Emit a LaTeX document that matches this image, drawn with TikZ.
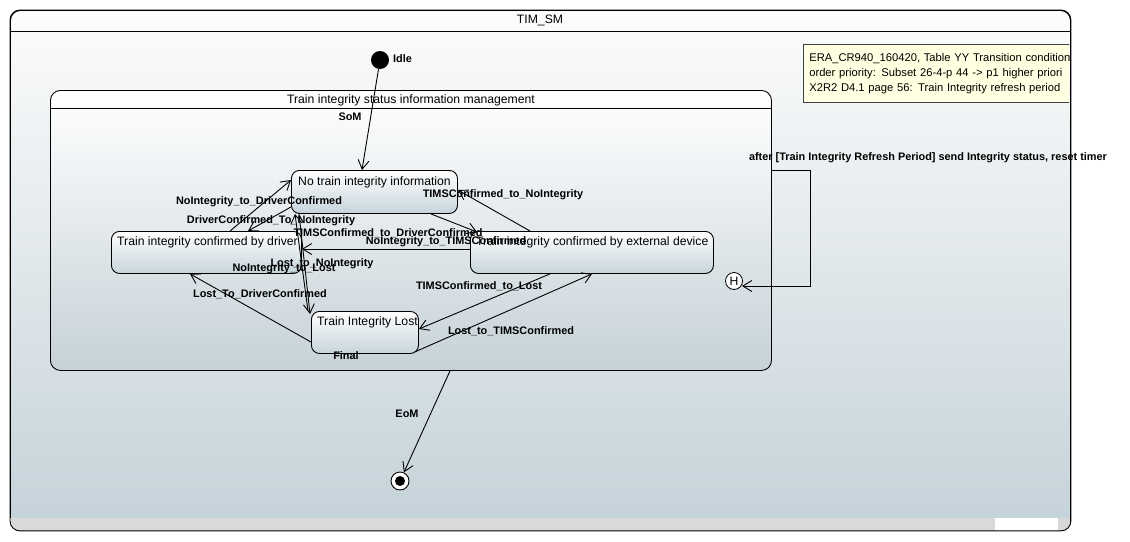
\documentclass[tikz,border=0pt]{standalone}
\usepackage{fontspec}
\setmainfont{Liberation Sans}
\usetikzlibrary{arrows.meta}
\definecolor{bgtop}{RGB}{252,252,252}
\definecolor{bgbot}{RGB}{196,210,217}
\definecolor{compbot}{RGB}{198,210,216}
\definecolor{statebot}{RGB}{198,212,219}
\definecolor{notefill}{RGB}{255,255,225}
\definecolor{barfill}{RGB}{217,217,217}
\begin{document}
\begin{tikzpicture}[x=1pt,y=-1pt,font=\fontsize{12.2}{14}\selectfont,
  lbl/.style={font=\fontsize{10.9}{13}\selectfont\bfseries, inner sep=0pt},
  txt/.style={anchor=west, inner sep=0pt},
  box/.style={draw, line width=0.9pt, anchor=north west, inner sep=0pt},
  state/.style={box, rounded corners=8pt, top color=white, bottom color=statebot},
  trans/.style={line width=0.9pt, -{Straight Barb[length=9pt,width=11pt]}}]

\useasboundingbox (0,0) rectangle (1130,541);

% 外框
\node[box, rounded corners=10pt, top color=bgtop, bottom color=bgbot,
  minimum width=1060, minimum height=520] (tim) at (10,10) {};
\begin{scope}
  \clip[rounded corners=10pt] (tim.north west) rectangle (tim.south east);
  \fill[barfill] (10,518) rectangle (1070,531);
  \fill[white] (995,518) rectangle (1058,531);
\end{scope}
\draw[line width=0.9pt, rounded corners=10pt] (tim.north west) rectangle (tim.south east);
\draw[line width=0.9pt] (tim.west |- 0,31) -- (tim.east |- 0,31);
\node (timtitle) at (540,20) {TIM\_SM};

% 注释框
\begin{scope}
  \clip (0,0) rectangle (1069,541);
  \node[box, line width=0.6pt, draw=black!75, fill=notefill, minimum height=58,
    text width=330, inner xsep=6pt, align=left,
    font=\fontsize{11.2}{15}\selectfont] (note) at (803,44)
    {ERA\_CR940\_160420, Table YY Transition conditions\\
     order priority: Subset 26-4-p 44 -> p1 higher priori\\
     X2R2 D4.1 page 56: Train Integrity refresh period};
\end{scope}

% 初始状态
\node[circle, fill, minimum size=18, inner sep=0pt] (idle) at (380,60) {};
\node[lbl, anchor=west] (idlelbl) at (393,59) {Idle};

% 组合状态
\node[box, rounded corners=10pt, top color=white, bottom color=compbot,
  minimum width=721, minimum height=280] (tism) at (50,90) {};
\draw[line width=0.9pt] (tism.west |- 0,108) -- (tism.east |- 0,108);
\node (tismtitle) at (411,100) {Train integrity status information management};

% 子状态
\node[state, minimum width=166, minimum height=43] (noinfo) at (291,170) {};
\node[txt] at ([shift={(7,12)}]noinfo.north west) {No train integrity information};
\node[state, minimum width=190, minimum height=42] (drv) at (111,231) {};
\node[txt] at ([shift={(6,11)}]drv.north west) {Train integrity confirmed by driver};
\node[state, minimum width=243, minimum height=42] (ext) at (470,231) {};
\node[txt] at ([shift={(6,11)}]ext.north west) {Train integrity confirmed by external device};
\node[state, minimum width=107, minimum height=42] (lost) at (311,311) {};
\node[txt] at ([shift={(6,11)}]lost.north west) {Train Integrity Lost};
\node[lbl] (finallbl) at (346,356) {Final};

% 历史状态与终止状态
\node[circle, draw, fill=white, line width=0.8pt, minimum size=17, inner sep=0pt] (hist) at (734,281) {H};
\node[circle, draw, fill=white, line width=0.9pt, minimum size=18, inner sep=0pt] (fin) at (400,481) {};
\node[circle, fill, minimum size=10, inner sep=0pt] (findot) at (fin) {};

% 转移标签
\node[lbl] (som) at (350,117) {SoM};
\node[lbl] at (259,202) {NoIntegrity\_to\_DriverConfirmed};
\node[lbl] at (271,221) {DriverConfirmed\_To\_NoIntegrity};
\node[lbl] at (388,233) {TIMSConfirmed\_to\_DriverConfirmed};
\node[lbl] at (446,242) {NoIntegrity\_to\_TIMSConfirmed};
\node[lbl] at (503,195) {TIMSConfirmed\_to\_NoIntegrity};
\node[lbl] at (322,264) {Lost\_to\_NoIntegrity};
\node[lbl] at (284,269) {NoIntegrity\_to\_Lost};
\node[lbl] at (260,294) {Lost\_To\_DriverConfirmed};
\node[lbl] at (479,286) {TIMSConfirmed\_to\_Lost};
\node[lbl] at (511,331) {Lost\_to\_TIMSConfirmed};
\node[lbl] at (928,158) {after [Train Integrity Refresh Period] send Integrity status, reset timer};
\node[lbl] (eom) at (407,414) {EoM};

% 转移
\draw[trans] (idle) -- ([shift={(71,0)}]noinfo.north west);
\draw[trans] ([shift={(119,0)}]drv.north west) -- ([shift={(0,10)}]noinfo.north west);
\draw[trans] ([shift={(0,37)}]noinfo.north west) -- ([shift={(137,0)}]drv.north west);
\draw[trans] ([shift={(0,18)}]ext.north west) -- ([shift={(0,18)}]drv.north east);
\draw[trans] ([shift={(-27,0)}]noinfo.south east) -- ([shift={(7,1)}]ext.north west);
\draw[trans] ([shift={(60,0)}]ext.north west) -- ([shift={(0,20)}]noinfo.north east);
\draw[trans] ([shift={(8,0)}]noinfo.south west) -- ([shift={(-1,3)}]lost.north west);
\draw[trans] ([shift={(-3,0)}]lost.north west) -- ([shift={(4,0)}]noinfo.south west);
\draw[trans] ([shift={(0,31)}]lost.north west) -- ([shift={(79,0)}]drv.south west);
\draw[trans] ([shift={(80,0)}]ext.south west) -- ([shift={(0,18)}]lost.north east);
\draw[trans] ([shift={(-4,-2)}]lost.south east) -- ([shift={(122,0)}]ext.south west);
\draw[trans] ([shift={(0,80)}]tism.north east) -- ++(39,0) |- ([shift={(8,5)}]hist.center);
\draw[trans] ([shift={(400,0)}]tism.south west) -- (fin);

\end{tikzpicture}
\end{document}
